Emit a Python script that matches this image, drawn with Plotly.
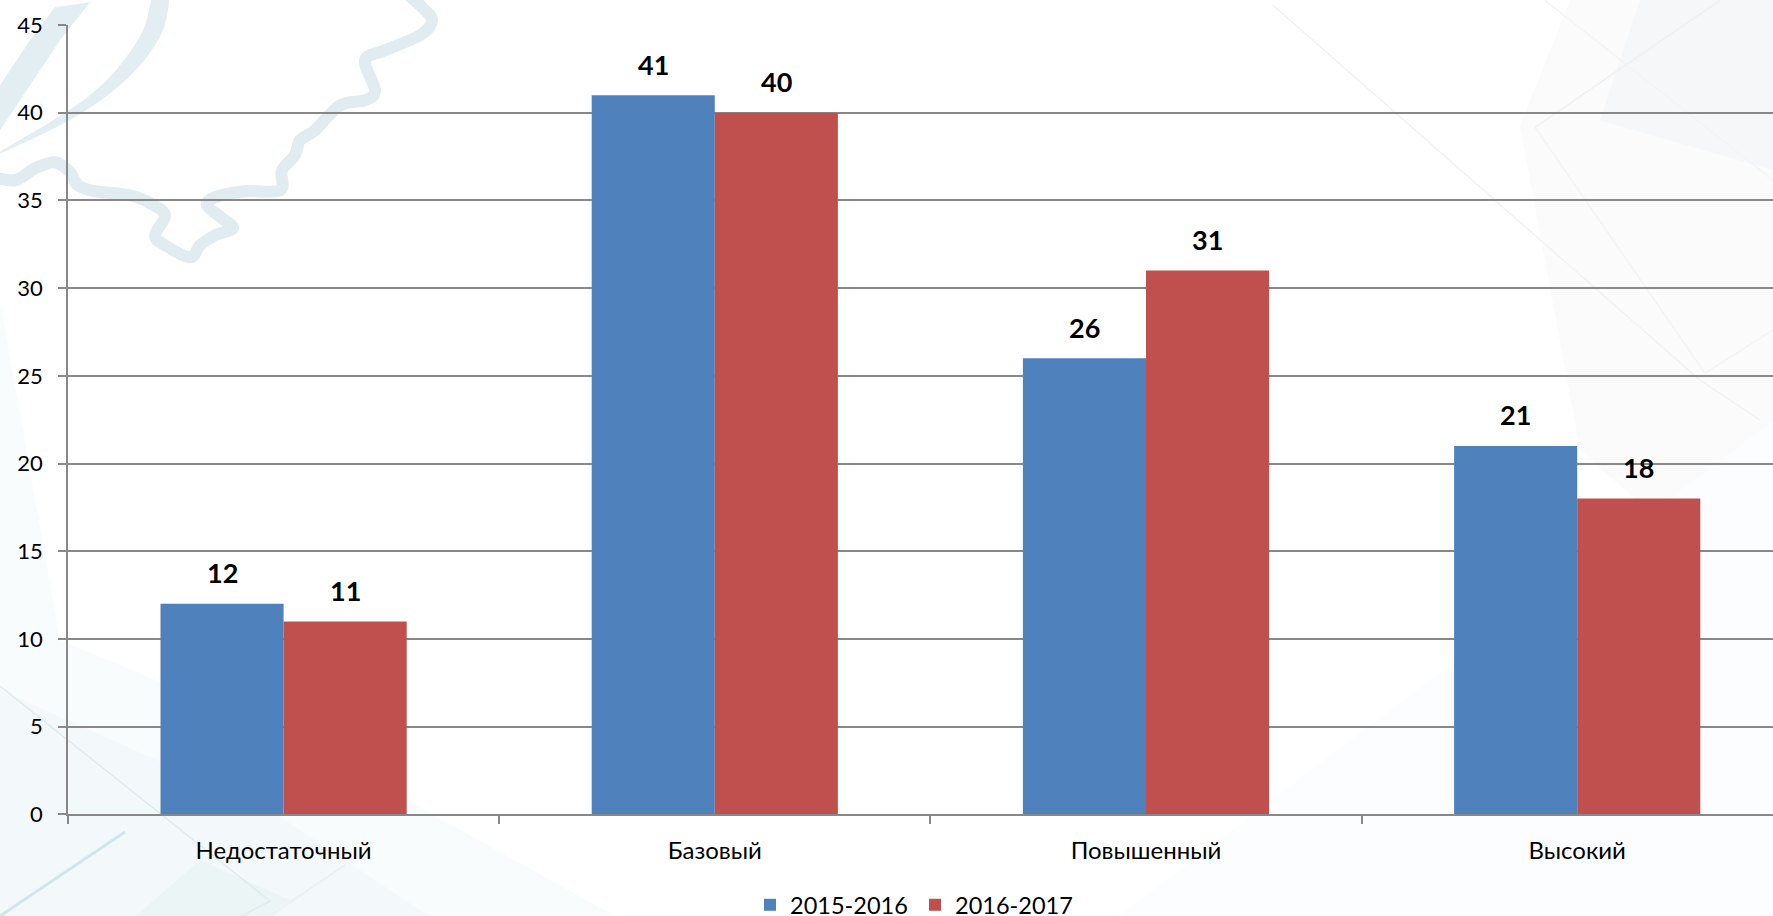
import plotly.graph_objects as go

categories = ["Недостаточный", "Базовый", "Повышенный", "Высокий"]
series_a_name = "2015-2016"
series_b_name = "2016-2017"
series_a = [12, 41, 26, 21]
series_b = [11, 40, 31, 18]
y_ticks = [0, 5, 10, 15, 20, 25, 30, 35, 40, 45]

W = 1773
H = 927
L, T, AXIS_Y = 68, 24.7, 814.3
B = H - AXIS_Y
CAT_W = 431.2
BAR_W = 123.2
FONT = "Lato, 'Open Sans', sans-serif"
PW = W - L
PH = H - T


def pt(x, y):
    return ((x - L) / PW, 1 - (y - T) / PH)


def smooth(points, close=False):
    p = points
    d = f"M{p[0][0]:.5f},{p[0][1]:.5f}"
    n = len(p)
    for i in range(n - 1):
        p0 = p[max(i - 1, 0)]
        p1, p2 = p[i], p[i + 1]
        p3 = p[min(i + 2, n - 1)]
        c1 = (p1[0] + (p2[0] - p0[0]) / 6, p1[1] + (p2[1] - p0[1]) / 6)
        c2 = (p2[0] - (p3[0] - p1[0]) / 6, p2[1] - (p3[1] - p1[1]) / 6)
        d += f" C{c1[0]:.5f},{c1[1]:.5f} {c2[0]:.5f},{c2[1]:.5f} {p2[0]:.5f},{p2[1]:.5f}"
    return d + (" Z" if close else "")


def straight(points, close=False):
    d = "M" + " L".join(f"{x:.5f},{y:.5f}" for x, y in points)
    return d + (" Z" if close else "")


def bg(path, fill=None, line=None, width=0):
    return dict(type="path", xref="paper", yref="paper", layer="below", path=path,
                fillcolor=fill or "rgba(0,0,0,0)",
                line=dict(color=line or "rgba(0,0,0,0)", width=width))


fig = go.Figure()
fig.add_bar(name=series_a_name, x=categories, y=series_a, marker=dict(color="#4F81BD", line_width=0))
fig.add_bar(name=series_b_name, x=categories, y=series_b, marker=dict(color="#C0504D", line_width=0))

annotations = []
for values, sign in ((series_a, -1), (series_b, 1)):
    for c, v in zip(categories, values):
        annotations.append(dict(x=c, y=v, xref="x", yref="y", text=f"<b>{v}</b>", showarrow=False,
                                xshift=sign * BAR_W / 2, yshift=31,
                                font=dict(family=FONT, size=27, color="#000000")))

map_line = [(-10, 176), (15, 180), (35, 168), (55, 162), (70, 172), (78, 185), (95, 191), (130, 195),
            (150, 203), (165, 215), (155, 235), (165, 245), (190, 257), (200, 245), (215, 235),
            (233, 228), (222, 218), (207, 205), (215, 197), (245, 191), (280, 190), (282, 170),
            (295, 155), (300, 140), (315, 130), (340, 105), (365, 100), (375, 90), (365, 60),
            (385, 50), (420, 35), (432, 20), (420, 5), (405, -8)]
swoosh = [(170, -5), (163, 30), (140, 65), (105, 97), (60, 125), (-5, 155), (50, 122), (90, 95),
          (120, 65), (143, 30), (152, -5)]
wedge = [(90, 2), (55, 7), (30, 40), (0, 85), (0, 130), (30, 85), (60, 40)]

fills = [
    ([(0, 300), (0, 930), (640, 930), (300, 740), (60, 640)], "#F9FCFD"),
    ([(0, 690), (0, 930), (450, 930), (270, 810)], "#F3F9FB"),
    ([(120, 930), (200, 860), (290, 900), (250, 930)], "#EBF5F6"),
    ([(1570, 0), (1773, 0), (1773, 620), (1580, 450), (1520, 125)], "#FBFBFC"),
    ([(1640, 0), (1773, 0), (1773, 170), (1600, 120)], "#F6F7F9"),
    ([(1773, 420), (1773, 930), (1100, 930)], "#FCFDFE"),
]
lines = [
    ([(0, 686), (270, 901), (215, 930)], "#DFEBEE", 1.5),
    ([(0, 916), (125, 832)], "#CFE6EF", 3),
    ([(270, 916), (345, 865)], "#E8F2F5", 2),
    ([(1273, 5), (1700, 380), (1760, 420)], "#F0F3F4", 1.5),
    ([(1535, 127), (1720, 0)], "#F0F1F3", 1.5),
    ([(1535, 127), (1705, 373), (1773, 330)], "#F3F4F6", 1.5),
    ([(1545, 0), (1773, 180)], "#F3F4F6", 1.5),
]

shapes = []
for pts, color in fills:
    shapes.append(bg(straight([pt(*q) for q in pts], close=True), fill=color))
for pts, color, w in lines:
    shapes.append(bg(straight([pt(*q) for q in pts]), line=color, width=w))
shapes.append(bg(straight([pt(*q) for q in wedge], close=True), fill="#E3EEF2"))
shapes.append(bg(smooth([pt(*q) for q in swoosh], close=True), fill="#E3EEF2"))
shapes.append(bg(smooth([pt(*q) for q in map_line]), line="#E1ECF1", width=12))

GRID = "#888888"
fig.update_layout(
    width=W, height=H,
    margin=dict(l=L, r=0, t=T, b=0, pad=0),
    paper_bgcolor="#FFFFFF", plot_bgcolor="rgba(0,0,0,0)",
    barmode="group", bargap=185 / CAT_W, bargroupgap=0,
    font=dict(family=FONT, size=21, color="#000000"),
    shapes=shapes, annotations=annotations,
    showlegend=True,
    legend=dict(orientation="h", xref="paper", yref="paper", x=(915 - L) / PW, y=(H - 905) / PH,
                xanchor="center", yanchor="middle", font=dict(family=FONT, size=23.5, color="#000000"),
                bgcolor="rgba(0,0,0,0)", itemclick=False, itemdoubleclick=False,
                entrywidth=120, entrywidthmode="pixels", tracegroupgap=0),
    xaxis=dict(type="category", range=[-0.5, -0.5 + PW / CAT_W], tickson="boundaries",
               ticks="outside", ticklen=8, tickwidth=1.6, tickcolor=GRID,
               showline=True, linecolor=GRID, linewidth=1.6, showgrid=False,
               ticklabelstandoff=14,
               tickfont=dict(family=FONT, size=24), automargin=False, zeroline=False),
    yaxis=dict(domain=[B / PH, 1], range=[0, 45], tickvals=y_ticks, ticks="outside", ticklen=8, tickwidth=1.6,
               tickcolor=GRID, showline=True, linecolor=GRID, linewidth=1.6, showgrid=True,
               gridcolor=GRID, gridwidth=1.6, ticklabelstandoff=11,
               tickfont=dict(family=FONT, size=22), automargin=False, zeroline=False),
)

fig.write_html("out.html", config={"displayModeBar": False},
               post_script="document.body.style.margin='0';document.documentElement.style.overflow='hidden';")
